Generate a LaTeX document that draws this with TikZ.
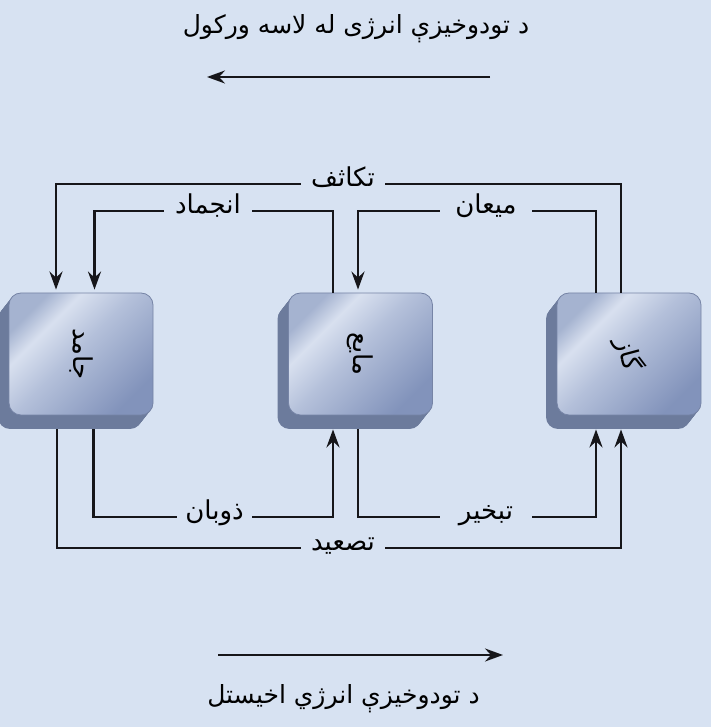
\documentclass[tikz,border=0pt]{standalone}
\usepackage{fontspec}
\newfontfamily\arabicfont[Script=Arabic]{DejaVu Sans}
\TeXXeTstate=1
\usetikzlibrary{arrows.meta}
\definecolor{bgcol}{RGB}{215,226,242}
\definecolor{faceA}{RGB}{165,179,208}
\definecolor{faceL}{RGB}{216,224,239}
\definecolor{faceM}{RGB}{180,192,218}
\definecolor{faceC}{RGB}{130,147,187}
\definecolor{shadowcol}{RGB}{108,123,156}
\definecolor{edgecol}{RGB}{118,132,166}
\definecolor{linecol}{RGB}{22,22,26}
\pgfdeclarehorizontalshading{boxface}{100bp}{color(0bp)=(faceA); color(25bp)=(faceA); color(34bp)=(faceL); color(48bp)=(faceM); color(75bp)=(faceC); color(100bp)=(faceC)}
\tikzset{
  face/.style={rounded corners=12pt, minimum width=144pt, minimum height=122pt, draw=edgecol, line width=0.8pt, shading=boxface, shading angle=-45, inner sep=0pt},
  boxtext/.style={inner sep=0pt, font=\arabicfont\fontsize{26}{28}\selectfont},
  conn/.style={draw=linecol, line width=2.6pt},
  arr/.style={conn, -{Stealth[length=18pt,width=13pt,inset=6pt]}},
  lbl/.style={inner sep=0pt, minimum width=#1, text height=14pt, text depth=8pt, font=\arabicfont\fontsize{26}{28}\selectfont},
  title/.style={inner sep=0pt, font=\arabicfont\fontsize{25}{28}\selectfont},
}
\begin{document}
\begin{tikzpicture}[x=1pt,y=1pt]
\fill[bgcol] (0,0) rectangle (711,727);
\useasboundingbox (0,0) rectangle (711,727);
% extruded shadows
\foreach \cx in {81,360.5,629}{
  \foreach \k in {1,...,14}{
    \fill[shadowcol, rounded corners=12pt] ({\cx-72-\k*11/14},{312-\k}) rectangle ++(144,122);
  }
}
% boxes
\node[face] (solid) at (81,373) {};
\node[face] (liquid) at (360.5,373) {};
\node[face] (gas) at (629,373) {};
\node[boxtext, rotate=-90] (solidtxt) at (solid) {\beginR جامد\endR};
\node[boxtext, rotate=-90] (liquidtxt) at (liquid) {\beginR مایع\endR};
\node[boxtext, rotate=-75] (gastxt) at (gas) {\beginR گاز\endR};
% labels
\node[lbl=84pt] (takasuf) at (343,543) {\beginR تکاثف\endR};
\node[lbl=88pt] (enjmad) at (208,516) {\beginR انجماد\endR};
\node[lbl=92pt] (mayan) at (486,516) {\beginR میعان\endR};
\node[lbl=75pt] (dawban) at (214.5,210) {\beginR ذوبان\endR};
\node[lbl=92pt] (tabkhir) at (486,210) {\beginR تبخیر\endR};
\node[lbl=84pt] (tasid) at (343,179) {\beginR تصعید\endR};
% top connectors
\draw[conn] ([xshift=-8pt]gas.north) |- (takasuf.east);
\draw[arr, shorten >=3pt] (takasuf.west) -| ([xshift=-25pt]solid.north);
\draw[conn] ([xshift=-27.5pt]liquid.north) |- (enjmad.east);
\draw[arr, shorten >=3pt] (enjmad.west) -| ([xshift=13.5pt]solid.north);
\draw[conn] ([xshift=-33pt]gas.north) |- (mayan.east);
\draw[arr, shorten >=3pt] (mayan.west) -| ([xshift=-2.5pt]liquid.north);
% bottom connectors
\draw[conn] ([xshift=12.5pt,yshift=-14pt]solid.south) |- (dawban.west);
\draw[arr] (dawban.east) -| ([xshift=-27.5pt,yshift=-14pt]liquid.south);
\draw[conn] ([xshift=-2.5pt,yshift=-14pt]liquid.south) |- (tabkhir.west);
\draw[arr] (tabkhir.east) -| ([xshift=-33pt,yshift=-14pt]gas.south);
\draw[conn] ([xshift=-24pt,yshift=-14pt]solid.south) |- (tasid.west);
\draw[arr] (tasid.east) -| ([xshift=-8pt,yshift=-14pt]gas.south);
% energy arrows and texts
\node[title] (toptext) at (356,698) {\beginR د تودوخیزې انرژی له لاسه ورکول\endR};
\coordinate (ta1) at (490,650);
\coordinate (ta2) at (207,650);
\draw[arr] (ta1) -- (ta2);
\coordinate (ba1) at (218,72);
\coordinate (ba2) at (503,72);
\draw[arr] (ba1) -- (ba2);
\node[title] (bottomtext) at (343.5,28) {\beginR د تودوخیزې انرژي اخیستل\endR};
\end{tikzpicture}
\end{document}
